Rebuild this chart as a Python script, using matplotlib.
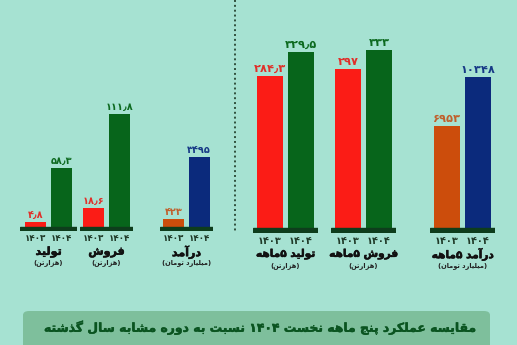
import matplotlib
matplotlib.use('Agg')
import matplotlib.pyplot as plt
import matplotlib.patheffects as pe
from matplotlib.lines import Line2D
from matplotlib.patches import FancyBboxPatch

plt.rcParams['font.family'] = ['DejaVu Sans']

# --- data -------------------------------------------------------------
years = ['۱۴۰۳', '۱۴۰۴']

left_names = ['تولید', 'فروش', 'درآمد']
left_units = ['(هزارتن)', '(هزارتن)', '(میلیارد تومان)']
left_1403 = [4.8, 18.6, 423]
left_1404 = [58.3, 111.8, 3495]

right_names = ['تولید ۵ماهه', 'فروش ۵ماهه', 'درآمد ۵ماهه']
right_units = ['(هزارتن)', '(هزارتن)', '(میلیارد تومان)']
right_1403 = [284.3, 297, 6953]
right_1404 = [329.5, 333, 10348]

title = 'مقایسه عملکرد پنج ماهه نخست ۱۴۰۴ نسبت به دوره مشابه سال گذشته'

# --- minimal persian shaping (matplotlib has no RTL / joining) --------
FORMS = {  # isolated, final, initial, medial
    'ا': ('\uFE8D', '\uFE8E', None, None),
    'آ': ('\uFE81', '\uFE82', None, None),
    'ب': ('\uFE8F', '\uFE90', '\uFE91', '\uFE92'),
    'پ': ('\uFB56', '\uFB57', '\uFB58', '\uFB59'),
    'ت': ('\uFE95', '\uFE96', '\uFE97', '\uFE98'),
    'ج': ('\uFE9D', '\uFE9E', '\uFE9F', '\uFEA0'),
    'خ': ('\uFEA5', '\uFEA6', '\uFEA7', '\uFEA8'),
    'د': ('\uFEA9', '\uFEAA', None, None),
    'ذ': ('\uFEAB', '\uFEAC', None, None),
    'ر': ('\uFEAD', '\uFEAE', None, None),
    'ز': ('\uFEAF', '\uFEB0', None, None),
    'س': ('\uFEB1', '\uFEB2', '\uFEB3', '\uFEB4'),
    'ش': ('\uFEB5', '\uFEB6', '\uFEB7', '\uFEB8'),
    'ع': ('\uFEC9', '\uFECA', '\uFECB', '\uFECC'),
    'ف': ('\uFED1', '\uFED2', '\uFED3', '\uFED4'),
    'ق': ('\uFED5', '\uFED6', '\uFED7', '\uFED8'),
    'ک': ('\uFB8E', '\uFB8F', '\uFB90', '\uFB91'),
    'گ': ('\uFB92', '\uFB93', '\uFB94', '\uFB95'),
    'ل': ('\uFEDD', '\uFEDE', '\uFEDF', '\uFEE0'),
    'م': ('\uFEE1', '\uFEE2', '\uFEE3', '\uFEE4'),
    'ن': ('\uFEE5', '\uFEE6', '\uFEE7', '\uFEE8'),
    'ه': ('\uFEE9', '\uFEEA', '\uFEEB', '\uFEEC'),
    'و': ('\uFEED', '\uFEEE', None, None),
    'ی': ('\uFBFC', '\uFBFD', '\uFBFE', '\uFBFF'),
}
DIGITS = set('۰۱۲۳۴۵۶۷۸۹٫')
MIRROR = {'(': ')', ')': '('}


def shape(text):
    out = []
    for i, ch in enumerate(text):
        if ch not in FORMS:
            out.append(ch)
            continue
        prev = text[i - 1] if i > 0 else ''
        nxt = text[i + 1] if i + 1 < len(text) else ''
        join_prev = prev in FORMS and FORMS[prev][2] is not None
        join_next = FORMS[ch][2] is not None and nxt in FORMS
        iso, fin, ini, med = FORMS[ch]
        if join_prev and join_next:
            out.append(med)
        elif join_prev:
            out.append(fin)
        elif join_next:
            out.append(ini)
        else:
            out.append(iso)
    return ''.join(out)


def fa(text):
    s = shape(text)
    runs = []
    for ch in s:
        kind = ch in DIGITS
        if runs and runs[-1][0] == kind:
            runs[-1][1].append(ch)
        else:
            runs.append((kind, [ch]))
    parts = []
    for kind, chars in reversed(runs):
        if kind:
            parts.append(''.join(chars))
        else:
            parts.append(''.join(MIRROR.get(c, c) for c in reversed(chars)))
    return ''.join(parts)


def fa_num(v):
    s = f'{v:g}'
    return s.translate(str.maketrans('0123456789.', '۰۱۲۳۴۵۶۷۸۹٫'))


def heavy(color, w=0.5):
    # thin outline in the text colour to thicken the strokes a little
    return [pe.withStroke(linewidth=w, foreground=color)]


# --- styling ----------------------------------------------------------
BG = '#a6e2d2'
RED, GREEN, ORANGE, NAVY = '#fb1c16', '#07651b', '#cc4d0c', '#0b2a7c'
RED_T, GREEN_T, ORANGE_T, NAVY_T = '#e0302a', '#0d6a20', '#c0602c', '#173a86'
STRIP = '#0e3d1c'
TICK_C, NAME_C = '#1f3a28', '#111111'

W, H = 517, 345
fig = plt.figure(figsize=(W / 100, H / 100), dpi=100, facecolor=BG)

# group layout in pixels: strip left/right, baseline, strip height, px per unit
left_layout = [(20, 77, 227, 4, 1.01), (80, 133, 227, 4, 1.01), (160, 213, 227, 4, 0.020)]
right_layout = [(253, 318, 228, 5, 0.535), (331, 396, 228, 5, 0.535), (430, 495, 228, 5, 0.0146)]


def draw_group(layout, v03, v04, c03, c04, t03, t04, name, unit,
               spacing, bw, vfs, tfs, nfs, ufs, name_dy, unit_dy, tick_pad):
    x0, x1, base, strip, scale = layout
    top = 8
    ax = fig.add_axes([x0 / W, (H - base - strip) / H, (x1 - x0) / W,
                       (base + strip - top) / H])
    ax.set_facecolor('none')
    half = (x1 - x0) / (2 * spacing)
    ax.set_xlim(0.5 - half, 0.5 + half)
    ax.set_ylim(-strip / scale, (base - top) / scale)
    ax.axhspan(-strip / scale, 0, color=STRIP, zorder=3)
    bars = ax.bar([0, 1], [v03, v04], width=bw, color=[c03, c04], zorder=2)
    for b, v, col in zip(bars, [v03, v04], [t03, t04]):
        ax.annotate(fa_num(v), (b.get_x() + b.get_width() / 2, v),
                    xytext=(0, 2), textcoords='offset pixels',
                    ha='center', va='bottom', fontsize=vfs,
                    fontweight='bold', color=col)
    ax.set_xticks([0, 1], [fa(y) for y in years])
    ax.tick_params(axis='x', length=0, pad=tick_pad, labelsize=tfs,
                   labelcolor=TICK_C)
    for lab in ax.get_xticklabels():
        lab.set_fontweight('bold')
    ax.set_yticks([])
    for sp in ax.spines.values():
        sp.set_visible(False)
    ax.annotate(fa(name), (0.5, 0), xycoords='axes fraction',
                xytext=(0, -name_dy), textcoords='offset pixels',
                ha='center', va='center', fontsize=nfs, fontweight='bold',
                color=NAME_C, path_effects=heavy(NAME_C, 0.4))
    ax.annotate(fa(unit), (0.5, 0), xycoords='axes fraction',
                xytext=(0, -unit_dy), textcoords='offset pixels',
                ha='center', va='center', fontsize=ufs, fontweight='bold',
                color='#222222')


cols03 = [(RED, RED_T), (RED, RED_T), (ORANGE, ORANGE_T)]
cols04 = [(GREEN, GREEN_T), (GREEN, GREEN_T), (NAVY, NAVY_T)]

for i in range(3):
    draw_group(left_layout[i], left_1403[i], left_1404[i],
               cols03[i][0], cols04[i][0], cols03[i][1], cols04[i][1],
               left_names[i], left_units[i],
               spacing=25.5, bw=0.82, vfs=7, tfs=6.3, nfs=8, ufs=4.8,
               name_dy=21, unit_dy=32, tick_pad=2.5)
    draw_group(right_layout[i], right_1403[i], right_1404[i],
               cols03[i][0], cols04[i][0], cols03[i][1], cols04[i][1],
               right_names[i], right_units[i],
               spacing=31, bw=0.84, vfs=8.2, tfs=7, nfs=7.6, ufs=4.8,
               name_dy=21, unit_dy=33, tick_pad=2.5)

# dotted divider between the two panels
fig.add_artist(Line2D([235 / W, 235 / W], [1, (H - 232) / H],
                      transform=fig.transFigure, color='#2f4f3c',
                      linewidth=1.4, linestyle=(0, (1, 1.5))))

# title banner
fig.add_artist(FancyBboxPatch((23 / W, -0.05), 467 / W, (H - 311) / H + 0.05,
                              boxstyle='round,pad=0,rounding_size=0.012',
                              transform=fig.transFigure, facecolor='#7ebf9c',
                              edgecolor='none'))
fig.text(260 / W, (H - 328) / H, fa(title), ha='center', va='center',
         fontsize=8.9, fontweight='bold', color='#0a5420',
         path_effects=heavy('#0a5420', 0.3))

fig.savefig('out.png', dpi=100, facecolor=BG)
